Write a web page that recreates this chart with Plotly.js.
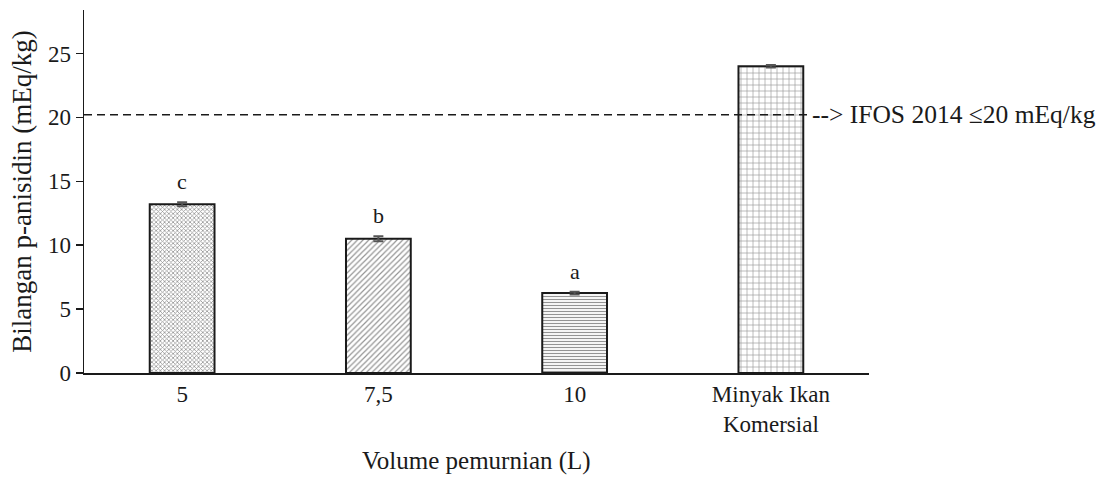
<!DOCTYPE html>
<html>
<head>
<meta charset="utf-8">
<script src="https://cdn.plot.ly/plotly-3.0.1.min.js"></script>
<style>html,body{margin:0;padding:0;background:#fff;}#chart{width:1113px;height:477px;}</style>
</head>
<body>
<div id="chart"></div>
<script>
const categories = ["5", "7,5", "10", "Minyak Ikan<br>Komersial"];
const values = [13.2, 10.5, 6.25, 24.0];
const errors = [0.15, 0.2, 0.1, 0.1];
const letters = ["c", "b", "a", ""];
const limitValue = 20.2;
const limitLabel = "--> IFOS 2014 \u226420 mEq/kg";
const yTicks = [0, 5, 10, 15, 20, 25];

const FONT = "Liberation Serif, Times New Roman, serif";
const INK = "#1a1a1a";

const trace = {
  type: "bar",
  x: categories,
  y: values,
  width: 0.33,
  marker: {
    color: "#ffffff",
    line: {color: INK, width: 2},
    pattern: {
      shape: ["x", "/", "-", "+"],
      size: [3, 4, 3, 6],
      solidity: [0.45, 0.3, 0.4, 0.2],
      fgcolor: "#2a2a2a",
      bgcolor: "#ffffff",
      fillmode: "overlay"
    }
  },
  error_y: {type: "data", array: errors, visible: true, color: "#555555", thickness: 2, width: 5},
  hoverinfo: "skip"
};

const annotations = [];
categories.forEach((c, i) => {
  if (letters[i]) {
    annotations.push({
      x: i, y: values[i] + errors[i], xref: "x", yref: "y",
      text: letters[i], showarrow: false, yanchor: "bottom", yshift: 6,
      font: {family: FONT, size: 22, color: INK}
    });
  }
});

annotations.push({
  x: 0.925, y: limitValue, xref: "paper", yref: "y", xanchor: "left", yanchor: "middle",
  text: limitLabel, showarrow: false, font: {family: FONT, size: 25.5, color: INK}
});
annotations.push({
  x: 0.5, y: -0.243, xref: "paper", yref: "paper", xanchor: "center", yanchor: "middle",
  text: "Volume pemurnian (L)", showarrow: false, font: {family: FONT, size: 25, color: INK}
});

const layout = {
  width: 1113, height: 477,
  margin: {l: 84, r: 244, t: 10, b: 104},
  paper_bgcolor: "#ffffff", plot_bgcolor: "#ffffff",
  showlegend: false,
  font: {family: FONT, color: INK},
  xaxis: {
    type: "category",
    range: [-0.5, 3.5],
    showline: true, linecolor: INK, linewidth: 1.5,
    ticks: "", showgrid: false, zeroline: false,
    tickfont: {family: FONT, size: 23, color: INK},
    fixedrange: true
  },
  yaxis: {
    range: [0, 28.4],
    tickvals: yTicks, ticks: "outside", ticklen: 7, tickcolor: INK, tickwidth: 1.5,
    showline: true, linecolor: INK, linewidth: 1.5,
    showgrid: false, zeroline: false,
    tickfont: {family: FONT, size: 23, color: INK},
    title: {text: "Bilangan p-anisidin (mEq/kg)", font: {family: FONT, size: 27, color: INK}, standoff: 8},
    fixedrange: true
  },
  shapes: [{
    type: "line", xref: "paper", yref: "y", x0: 0, x1: 0.925, y0: limitValue, y1: limitValue,
    line: {color: INK, width: 1.5, dash: "8px,5px"}
  }],
  annotations: annotations
};

Plotly.newPlot("chart", [trace], layout, {displayModeBar: false, staticPlot: true});
</script>
</body>
</html>
